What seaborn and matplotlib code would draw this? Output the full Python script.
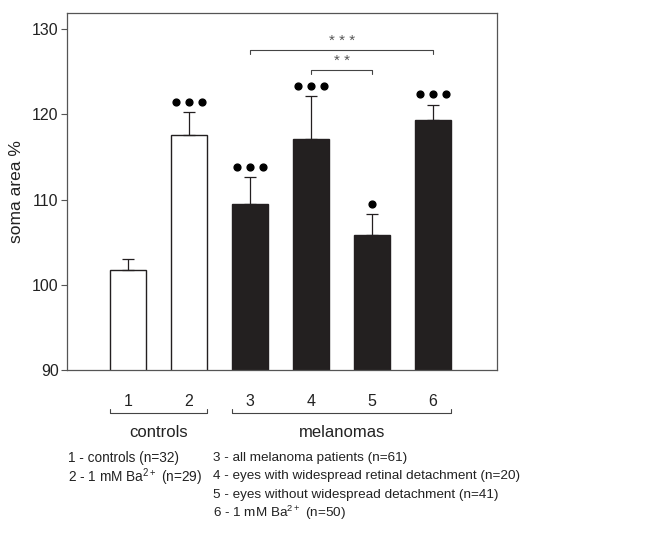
import matplotlib
matplotlib.use("Agg")
import matplotlib.pyplot as plt
import seaborn as sns
import pandas as pd
import numpy as np

# data
groups = ["1", "2", "3", "4", "5", "6"]
soma_area = [101.7, 117.6, 109.5, 117.1, 105.9, 119.4]
sem = [1.3, 2.7, 3.1, 5.1, 2.4, 1.7]
n_dots = [0, 3, 3, 3, 1, 3]          # significance dots above each bar
dot_level = [0, 121.5, 113.8, 123.3, 109.5, 122.4]
bar_colors = ["white", "white", "#231f20", "#231f20", "#231f20", "#231f20"]

# comparisons: (bar a, bar b, height, stars)
brackets = [(2, 5, 127.6, "* * *"), (3, 4, 125.2, "* *")]

legend_left = ["1 - controls (n=32)", "2 - 1 mM Ba$^{\\mathrm{2+}}$ (n=29)"]
legend_right = ["3 - all melanoma patients (n=61)",
                "4 - eyes with widespread retinal detachment (n=20)",
                "5 - eyes without widespread detachment (n=41)",
                "6 - 1 mM Ba$^{\\mathrm{2+}}$ (n=50)"]

df = pd.DataFrame({"group": groups, "area": soma_area})

sns.set_style("white")
plt.rcParams["font.family"] = ["Liberation Sans", "DejaVu Sans"]
plt.rcParams["mathtext.fontset"] = "custom"
plt.rcParams["mathtext.rm"] = "Liberation Sans"

fig = plt.figure(figsize=(6.5, 5.48), dpi=100)
ax = fig.add_axes([0.103, 0.325, 0.662, 0.651])

sns.barplot(data=df, x="group", y="area", hue="group", palette=bar_colors,
            edgecolor="#231f20", linewidth=1.0, width=0.6, legend=False, ax=ax)

x = np.arange(len(groups))
ax.errorbar(x, soma_area, yerr=[np.zeros(len(sem)), sem], fmt="none",
            ecolor="#231f20", elinewidth=0.9, capsize=4, capthick=0.9)

# significance dots
for xi, k, yd in zip(x, n_dots, dot_level):
    if k:
        offs = (np.arange(k) - (k - 1) / 2) * 0.21
        ax.scatter(xi + offs, [yd] * k, s=24, color="black", zorder=5)

# comparison brackets
for a, b, h, stars in brackets:
    ax.plot([a, a, b, b], [h - 0.5, h, h, h - 0.5], color="#444444", lw=0.8)
    ax.text((a + b) / 2, h + 1.05, stars, ha="center", va="center",
            fontsize=11, color="#555555")

ax.set_ylim(90, 131.9)
ax.set_xlim(-1, 6.05)
ax.set_yticks([90, 100, 110, 120, 130])
ax.tick_params(axis="y", left=True, length=4, width=0.8, color="#555555",
               labelsize=11.5, labelcolor="#222222", pad=2)
ax.tick_params(axis="x", bottom=False, labelsize=11.5, labelcolor="#222222", pad=14)
ax.set_xlabel("")
ax.set_ylabel("soma area %", fontsize=12.5, color="#222222", labelpad=6)
for s in ax.spines.values():
    s.set_color("#555555")
    s.set_linewidth(0.9)

# group brackets below the axis
tr = ax.get_xaxis_transform()
for lo, hi, name in [(-0.3, 1.3, "controls"), (1.7, 5.3, "melanomas")]:
    ax.plot([lo, lo, hi, hi], [-0.109, -0.120, -0.120, -0.109], color="#444444",
            lw=0.8, transform=tr, clip_on=False)
    ax.text((lo + hi) / 2, -0.176, name, transform=tr, ha="center", va="center",
            fontsize=12, color="#222222")

for i, t in enumerate(legend_left):
    fig.text(0.105, 0.164 - i * 0.034, t, ha="left", va="center", fontsize=9.8,
             color="#222222")
for i, t in enumerate(legend_right):
    fig.text(0.328, 0.164 - i * 0.0335, t, ha="left", va="center", fontsize=9.7,
             color="#222222")

fig.savefig("out.png", dpi=100)
